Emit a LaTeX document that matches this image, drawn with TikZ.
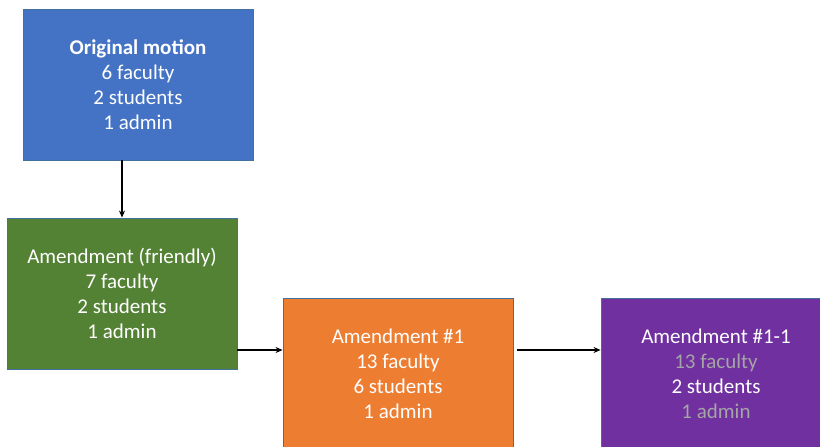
\documentclass[tikz,border=0pt]{standalone}
\usepackage{fontspec}
\setmainfont{Carlito}
\usetikzlibrary{arrows.meta,calc}
\definecolor{bluefill}{HTML}{4472C4}
\definecolor{greenfill}{HTML}{548235}
\definecolor{orangefill}{HTML}{ED7D31}
\definecolor{purplefill}{HTML}{7030A0}
\definecolor{edgeblue}{HTML}{41719C}
\definecolor{graytext}{HTML}{A5A5A5}
\tikzset{
  box/.style={draw=edgeblue, line width=0.9pt, minimum width=230pt, minimum height=151pt,
    text=white, align=center, inner sep=0pt,
    font=\fontsize{21}{25}\selectfont,
    execute at begin node={\rule{0pt}{19.5pt}}},
  conn/.style={-{Stealth[length=7pt,width=6pt]}, line width=1.2pt, black}
}
\begin{document}
\begin{tikzpicture}[x=1pt,y=-1pt]
\useasboundingbox (0,0) rectangle (820,447);
\begin{scope}
\clip (0,0) rectangle (820,447);
\node[box, fill=bluefill] (orig) at (138,84.5) {\textbf{Original motion}\\6 faculty\\2 students\\1 admin};
\node[box, fill=greenfill] (friendly) at (122,293.5) {Amendment (friendly)\\7 faculty\\2 students\\1 admin};
\node[box, fill=orangefill] (am1) at (398,374) {Amendment \#1\\13 faculty\\6 students\\1 admin};
\node[box, fill=purplefill] (am11) at (716,374) {Amendment \#1-1\\\textcolor{graytext}{13 faculty}\\2 students\\\textcolor{graytext}{1 admin}};
\end{scope}
\draw[conn] (orig.south -| friendly.north) -- (friendly.north);
\coordinate (a) at ($(friendly.east)+(0,56.5)$);
\draw[conn] (a) -- (a -| am1.west);
\coordinate (b) at ($(am1.east)+(4,-24)$);
\draw[conn] (b) -- (b -| am11.west);
\end{tikzpicture}
\end{document}
